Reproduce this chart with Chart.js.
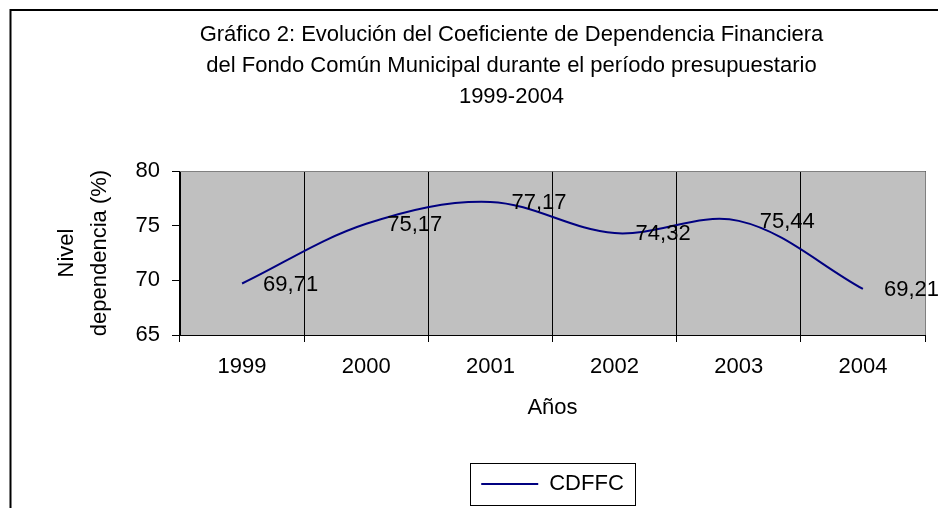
<!DOCTYPE html>
<html>
<head>
<meta charset="utf-8">
<script src="https://cdn.jsdelivr.net/npm/chart.js@4/dist/chart.umd.min.js"></script>
<style>
  html, body { margin: 0; padding: 0; background: #fff; }
  #wrap { width: 938px; height: 508px; }
</style>
</head>
<body>
<div id="wrap"><canvas id="chart"></canvas></div>
<script>
// Datos del gráfico
const years = ["1999", "2000", "2001", "2002", "2003", "2004"]
const cdffc = [69.71, 75.17, 77.17, 74.32, 75.44, 69.21]
const yTicks = [65, 70, 75, 80]

const font = "'Liberation Sans', Arial, sans-serif"

// Fondo blanco, marco exterior y área de trazado gris
const backgroundPlugin = {
  id: "background",
  beforeDraw(chart) {
    const { ctx, chartArea: a } = chart
    ctx.save()
    ctx.fillStyle = "#fff"
    ctx.fillRect(0, 0, chart.width, chart.height)
    ctx.fillStyle = "#c0c0c0"
    ctx.fillRect(a.left, a.top, a.right - a.left, a.bottom - a.top)
    ctx.strokeStyle = "#000"
    ctx.lineWidth = 2
    ctx.strokeRect(10.5, 10, 2000, 2000)
    ctx.restore()
  },
  beforeDatasetsDraw(chart) {
    const { ctx, chartArea: a } = chart
    ctx.save()
    ctx.strokeStyle = "#808080"
    ctx.lineWidth = 1
    ctx.beginPath()
    ctx.moveTo(a.left, a.top + 0.5)
    ctx.lineTo(a.right + 0.5, a.top + 0.5)
    ctx.lineTo(a.right + 0.5, a.bottom)
    ctx.stroke()
    ctx.restore()
  },
}

// Etiquetas de valor a la derecha de cada punto
const valueLabels = {
  id: "valueLabels",
  afterDatasetsDraw(chart) {
    const { ctx } = chart
    const meta = chart.getDatasetMeta(0)
    ctx.save()
    ctx.font = "22px " + font
    ctx.fillStyle = "#000"
    ctx.textAlign = "left"
    ctx.textBaseline = "middle"
    meta.data.forEach((pt, i) => {
      const txt = cdffc[i].toFixed(2).replace(".", ",")
      ctx.fillText(txt, pt.x + 21, pt.y + 1)
    })
    ctx.restore()
  },
  afterDraw(chart) {
    // Recuadro de la leyenda
    const hb = chart.legend.legendHitBoxes[0]
    if (!hb) return
    const { ctx } = chart
    ctx.save()
    ctx.strokeStyle = "#000"
    ctx.lineWidth = 1
    ctx.strokeRect(Math.round(hb.left - 11) + 0.5, Math.round(hb.top - 10) + 0.5,
      Math.round(hb.width + 22), Math.round(hb.height + 20))
    ctx.restore()
  },
}

new Chart(document.getElementById("chart"), {
  type: "line",
  data: {
    labels: years,
    datasets: [
      {
        label: "CDFFC",
        data: cdffc,
        borderColor: "#000080",
        backgroundColor: "#000080",
        borderWidth: 2,
        tension: 0.35,
        pointRadius: 0,
        fill: false,
      },
    ],
  },
  options: {
    responsive: true,
    maintainAspectRatio: false,
    animation: false,
    layout: { padding: { left: 98, right: 13, top: 0, bottom: 3 } },
    plugins: {
      tooltip: { enabled: false },
      title: {
        display: true,
        text: [
          "Gráfico 2: Evolución del Coeficiente de Dependencia Financiera",
          "del Fondo Común Municipal durante el período presupuestario",
          "1999-2004",
        ],
        color: "#000",
        font: { family: font, size: 22, weight: "normal", lineHeight: 31 / 22 },
        padding: { top: 19.5, bottom: 58.5 },
      },
      legend: {
        position: "bottom",
        fullSize: false,
        labels: {
          usePointStyle: true,
          pointStyle: "line",
          pointStyleWidth: 57,
          padding: 10,
          color: "#000",
          font: { family: font, size: 22 },
        },
      },
    },
    scales: {
      x: {
        offset: true,
        afterFit: (scale) => { scale.height = 128 },
        grid: {
          offset: true,
          color: "#000",
          lineWidth: 1,
          drawTicks: true,
          tickLength: 7,
        },
        border: { color: "#000", width: 1 },
        ticks: {
          color: "#000",
          font: { family: font, size: 22 },
          padding: 12,
          maxRotation: 0,
        },
        title: {
          display: true,
          text: "Años",
          color: "#000",
          font: { family: font, size: 22 },
          padding: { top: 0, bottom: 41.8 },
        },
      },
      y: {
        min: 65,
        max: 80,
        afterFit: (scale) => { scale.width = 82 },
        afterBuildTicks: (scale) => { scale.ticks = yTicks.map((v) => ({ value: v })) },
        grid: {
          drawOnChartArea: false,
          drawTicks: true,
          tickLength: 8,
          color: "#000",
        },
        border: { color: "#000", width: 1 },
        ticks: {
          color: "#000",
          font: { family: font, size: 22 },
          padding: 12,
        },
        title: {
          display: true,
          text: ["Nivel", "dependencia (%)"],
          color: "#000",
          font: { family: font, size: 22, lineHeight: 33 / 22 },
          padding: { top: -47.5, bottom: 0 },
        },
      },
    },
  },
  plugins: [backgroundPlugin, valueLabels],
})
</script>
</body>
</html>
